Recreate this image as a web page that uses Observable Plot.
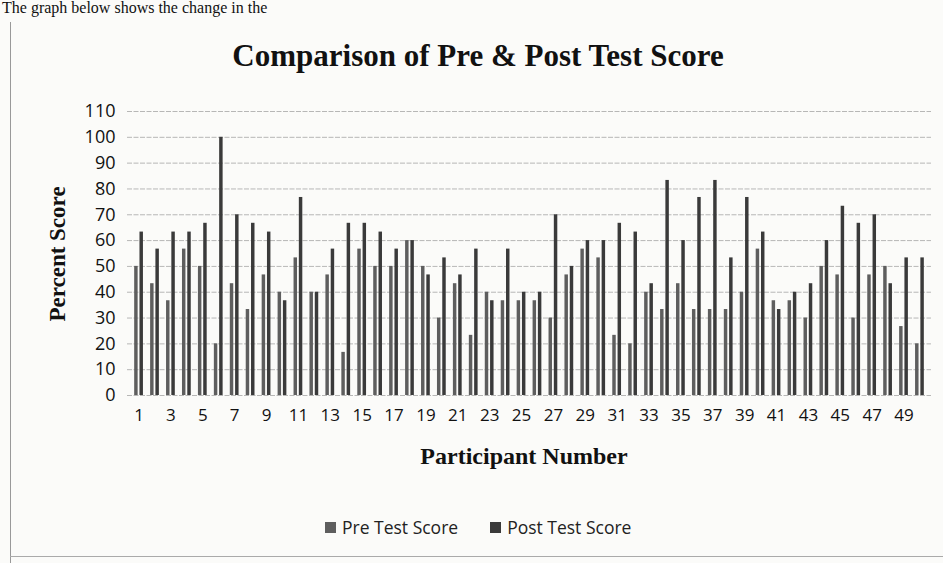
<!DOCTYPE html>
<html>
<head>
<meta charset="utf-8">
<script src="https://cdn.jsdelivr.net/npm/d3@7"></script>
<script src="https://cdn.jsdelivr.net/npm/@observablehq/plot@0.6"></script>
<style>
  html, body { margin: 0; padding: 0; }
  body { width: 943px; height: 563px; background: #fbfbf9; position: relative; overflow: hidden; }
  .abs { position: absolute; white-space: nowrap; }
  #topline { top: 0px; left: 2px; font-family: "Liberation Serif", serif; font-size: 16px; line-height: 16px; color: #111; }
  #title { top: 38px; left: 478px; transform: translateX(-50%); font-family: "Liberation Serif", serif; font-weight: bold; font-size: 31px; color: #111; }
  #ylabel { top: 254px; left: 58px; transform: translate(-50%, -50%) rotate(-90deg); font-family: "Liberation Serif", serif; font-weight: bold; font-size: 23px; color: #111; }
  #xlabel { top: 443px; left: 524px; transform: translateX(-50%); font-family: "Liberation Serif", serif; font-weight: bold; font-size: 24px; color: #111; }
  #legend { top: 515px; left: 325px; font-family: "Open Sans", sans-serif; font-size: 17.5px; color: #222; display: flex; align-items: center; }
  #legend .sw { display: inline-block; width: 11px; height: 11px; margin-right: 6px; }
  #legend .item { display: flex; align-items: center; margin-right: 32px; }
  #chart { position: absolute; top: 90px; left: 0; }
  #lborder { left: 10px; top: 22px; width: 1px; height: 541px; background: #999; }
  #bborder { left: 10px; top: 556px; width: 933px; height: 1px; background: #aaa; }
</style>
</head>
<body>
<div id="topline" class="abs">The graph below shows the change in the</div>
<div id="lborder" class="abs"></div>
<div id="bborder" class="abs"></div>
<div id="title" class="abs">Comparison of Pre &amp; Post Test Score</div>
<div id="ylabel" class="abs">Percent Score</div>
<div id="chart"></div>
<div id="xlabel" class="abs">Participant Number</div>
<div id="legend" class="abs"></div>
<script>
const participants = [1,2,3,4,5,6,7,8,9,10,11,12,13,14,15,16,17,18,19,20,21,22,23,24,25,26,27,28,29,30,31,32,33,34,35,36,37,38,39,40,41,42,43,44,45,46,47,48,49,50];
const preScores = [50,43.3,36.7,56.7,50,20,43.3,33.3,46.7,40,53.3,40,46.7,16.7,56.7,50,50,60,50,30,43.3,23.3,40,36.7,36.7,36.7,30,46.7,56.7,53.3,23.3,20,40,33.3,43.3,33.3,33.3,33.3,40,56.7,36.7,36.7,30,50,46.7,30,46.7,50,26.7,20];
const postScores = [63.3,56.7,63.3,63.3,66.7,100,70,66.7,63.3,36.7,76.7,40,56.7,66.7,66.7,63.3,56.7,60,46.7,53.3,46.7,56.7,36.7,56.7,40,40,70,50,60,60,66.7,63.3,43.3,83.3,60,76.7,83.3,53.3,76.7,63.3,33.3,40,43.3,60,73.3,66.7,70,43.3,53.3,53.3];
const seriesNames = ["Pre Test Score", "Post Test Score"];
const seriesColors = ["#5e5e5e", "#3a3a3a"];
const yTicks = [0,10,20,30,40,50,60,70,80,90,100,110];

const preRows = participants.map((p, i) => ({p, v: preScores[i]}));
const postRows = participants.map((p, i) => ({p, v: postScores[i]}));

const chart = Plot.plot({
  width: 943,
  height: 390,
  marginLeft: 127,
  marginRight: 12,
  marginTop: 21,
  marginBottom: 85,
  style: {background: "transparent", fontFamily: "Open Sans, sans-serif", color: "#111"},
  x: {type: "band", domain: participants, padding: 0.45},
  y: {domain: [0, 110]},
  marks: [
    Plot.gridY(yTicks, {stroke: "#9a9a9a", strokeOpacity: 0.7, strokeDasharray: "5 1.5"}),
    Plot.barY(preRows, {x: "p", y: "v", fill: seriesColors[0], insetRight: 5.3}),
    Plot.barY(postRows, {x: "p", y: "v", fill: seriesColors[1], insetLeft: 5.3}),
    Plot.axisY({ticks: yTicks, tickSize: 0, tickPadding: 12, label: null, fontSize: 18}),
    Plot.axisX({tickSize: 0, tickPadding: 13, label: null, fontSize: 17, tickFormat: d => d % 2 ? String(d) : ""})
  ]
});
document.getElementById("chart").appendChild(chart);

const legend = document.getElementById("legend");
seriesNames.forEach((name, i) => {
  const item = document.createElement("span");
  item.className = "item";
  const sw = document.createElement("span");
  sw.className = "sw";
  sw.style.background = seriesColors[i];
  item.appendChild(sw);
  item.appendChild(document.createTextNode(name));
  legend.appendChild(item);
});
</script>
</body>
</html>
